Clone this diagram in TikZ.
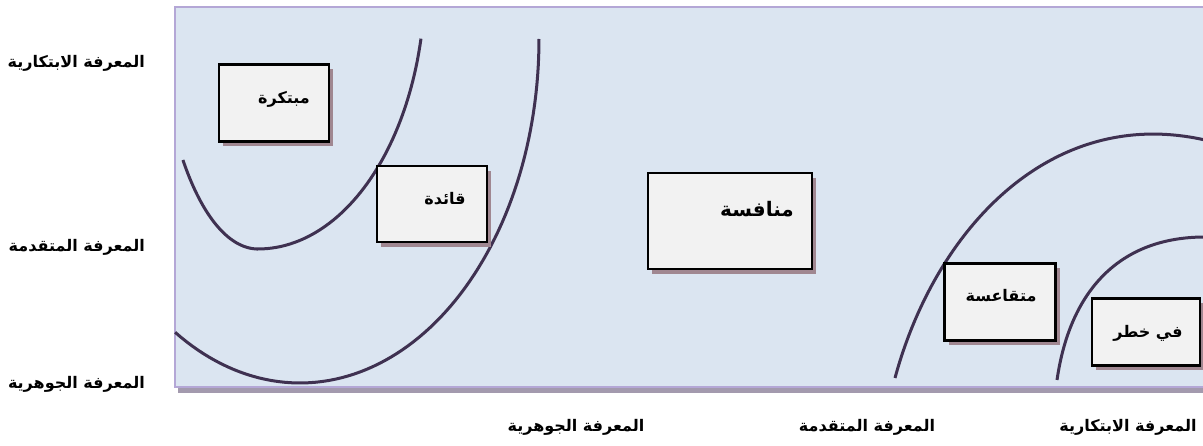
\documentclass[tikz,border=0pt]{standalone}
\usepackage{fontspec}
\newfontfamily\arabicfont[Script=Arabic]{DejaVu Sans}
\TeXXeTstate=1
\usetikzlibrary{shadows}
\definecolor{framefill}{RGB}{219,229,241}
\definecolor{frameline}{RGB}{180,167,214}
\definecolor{frameshadow}{RGB}{163,154,174}
\definecolor{boxfill}{RGB}{242,242,242}
\definecolor{boxshadow}{RGB}{160,135,145}
\definecolor{curvecol}{RGB}{63,49,81}
\tikzset{
  kbox/.style={draw=black, line width=2.5pt, fill=boxfill, inner sep=0pt,
    drop shadow={shadow xshift=4pt, shadow yshift=-5pt, fill=boxshadow, opacity=1}},
  btext/.style={font=\arabicfont\bfseries\fontsize{16}{19}\selectfont, inner sep=0pt},
  axlabel/.style={font=\arabicfont\bfseries\fontsize{16}{19}\selectfont, inner sep=0pt},
  arc/.style={draw=curvecol, line width=3pt}
}
\begin{document}
\begin{tikzpicture}[x=1pt,y=-1pt]
\useasboundingbox (0,0) rectangle (1203,446);
\clip (0,0) rectangle (1203,446);
% frame
\fill[frameshadow] (178,13) rectangle (1215,393);
\draw[fill=framefill, draw=frameline, line width=2pt] (175,7) rectangle (1215,387);
% curves
\draw[arc] plot[domain=138:90, samples=40] ({258+101*cos(\x)},{-20+269*sin(\x)})
  -- plot[domain=90:12.6, samples=50] ({258+167*cos(\x)},{-20+269*sin(\x)});
\draw[arc] plot[domain=121.5:0, samples=80] ({300+239*cos(\x)},{39+344*sin(\x)});
\draw[arc] (895,378) .. controls (935,230) and (1050,105) .. (1205,140);
\draw[arc] (1057,380) .. controls (1070,290) and (1120,237) .. (1205,237);
% boxes
\node[kbox, minimum width=110pt, minimum height=77pt] (b1) at (274,103) {};
\node[kbox, minimum width=110pt, minimum height=76pt] (b2) at (432,204) {};
\node[kbox, minimum width=164pt, minimum height=96pt] (b3) at (730,221) {};
\node[kbox, minimum width=111pt, minimum height=77pt] (b4) at (1000,302) {};
\node[kbox, minimum width=108pt, minimum height=67pt] (b5) at (1146,332) {};
% box texts
\node[btext] (t1) at (284,99) {\beginR مبتكرة\endR};
\node[btext] (t2) at (445,199) {\beginR قائدة\endR};
\node[btext, font=\arabicfont\bfseries\fontsize{20}{24}\selectfont] (t3) at (757,209) {\beginR منافسة\endR};
\node[btext] (t4) at (1001,296) {\beginR متقاعسة\endR};
\node[btext] (t5) at (1148,333) {\beginR في خطر\endR};
% axis labels (left)
\node[axlabel, anchor=east] (l1) at (145,63) {\beginR المعرفة الابتكارية\endR};
\node[axlabel, anchor=east] (l2) at (145,247) {\beginR المعرفة المتقدمة\endR};
\node[axlabel, anchor=east] (l3) at (145,384) {\beginR المعرفة الجوهرية\endR};
% axis labels (bottom)
\node[axlabel] (x1) at (576,427) {\beginR المعرفة الجوهرية\endR};
\node[axlabel] (x2) at (867,427) {\beginR المعرفة المتقدمة\endR};
\node[axlabel] (x3) at (1128,427) {\beginR المعرفة الابتكارية\endR};
\end{tikzpicture}
\end{document}
